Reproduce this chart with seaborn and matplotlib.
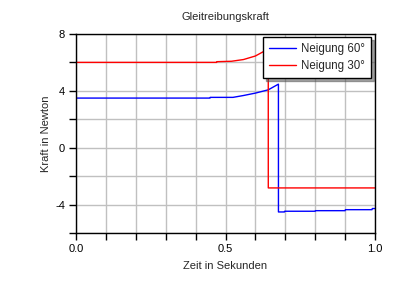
import matplotlib
matplotlib.use("Agg")
import matplotlib.pyplot as plt
import seaborn as sns
import pandas as pd
import numpy as np

# Data
t60 = [0.0, 0.448, 0.449, 0.525, 0.56, 0.60, 0.643, 0.677, 0.6771, 0.697, 0.698, 0.80, 0.801, 0.90, 0.901, 0.99, 0.991, 1.0]
f60 = [3.49, 3.49, 3.54, 3.54, 3.67, 3.84, 4.07, 4.47, -4.52, -4.52, -4.47, -4.47, -4.43, -4.43, -4.36, -4.36, -4.28, -4.28]
t30 = [0.0, 0.47, 0.471, 0.52, 0.56, 0.60, 0.627, 0.643, 0.6431, 1.0]
f30 = [6.0, 6.0, 6.05, 6.08, 6.2, 6.45, 6.76, 7.0, -2.83, -2.83]
series_names = ["Neigung 60°", "Neigung 30°"]
colors = ["#0000ff", "#ff0000"]

df = pd.concat([
    pd.DataFrame({"t": t60, "F": f60, "s": series_names[0]}),
    pd.DataFrame({"t": t30, "F": f30, "s": series_names[1]}),
])

sns.set_style("white")
plt.rcParams["font.family"] = ["Liberation Sans", "DejaVu Sans"]

fig = plt.figure(figsize=(4.0, 2.83), dpi=100)
ax = fig.add_axes([0.19, 0.1767, 0.7475, 0.7033])

sns.lineplot(data=df, x="t", y="F", hue="s", palette=colors, sort=False,
             estimator=None, linewidth=1.0, ax=ax, legend=True)

ax.set_xlim(0, 1)
ax.set_ylim(-6, 8)
ax.set_xticks(np.arange(0, 1.01, 0.1))
ax.set_xticklabels(["0.0", "", "", "", "", "0.5", "", "", "", "", "1.0"])
ax.set_yticks(np.arange(-6, 8.1, 2))
ax.set_yticklabels(["", "-4", "", "0", "", "4", "", "8"])
ax.grid(True, color="#c0c0c0", linewidth=1.0)
ax.set_axisbelow(True)
for sp in ax.spines.values():
    sp.set_color("black")
    sp.set_linewidth(1.0)
    sp.set_visible(True)
ax.tick_params(axis="both", direction="out", length=5, width=1, color="black",
               labelsize=8, labelcolor="black", bottom=True, left=True, pad=3)

ax.set_xlabel("Zeit in Sekunden", fontsize=8, labelpad=5)
ax.set_ylabel("Kraft in Newton", fontsize=8, labelpad=3)
ax.set_title("Gleitreibungskraft", fontsize=8, pad=10)

handles, labels = ax.get_legend_handles_labels()
leg = ax.legend(handles, labels, loc="upper right", fontsize=8.3, frameon=True,
                fancybox=False, shadow=True, borderpad=0.5, handlelength=2.4,
                handletextpad=0.45, labelspacing=0.45, borderaxespad=0.25,
                bbox_to_anchor=(0.997, 0.997))
leg.get_frame().set_edgecolor("black")
leg.get_frame().set_linewidth(1.0)
leg.get_frame().set_alpha(1)
leg.set_zorder(10)

fig.savefig("out.png", dpi=100)
